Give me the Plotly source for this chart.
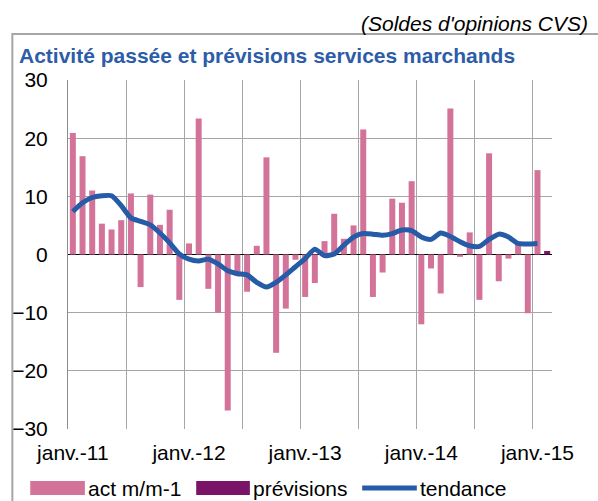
import plotly.graph_objects as go

# ---- data ----
months = [f"{y}-{m:02d}" for y in range(2011, 2016) for m in range(1, 13)][:50]  # Jan 2011 .. Feb 2015
act_values = [20.9, 16.9, 11.0, 5.3, 4.3, 5.9, 10.5, -5.6, 10.3, 5.1, 7.7, -7.8,
              1.9, 23.4, -5.9, -10.0, -26.8, -3.6, -6.4, 1.5, 16.7, -16.9, -9.3, -0.9,
              -7.3, -4.9, 2.3, 7.0, 2.7, 5.0, 21.5, -7.3, -3.1, 9.6, 8.9, 12.6,
              -12.0, -2.4, -6.7, 25.1, -0.4, 3.8, -7.8, 17.4, -4.6, -0.7, 1.7, -10.1,
              14.5, None]
prev_values = [None] * 49 + [0.6]
tendance_values = [7.4, 8.9, 9.8, 10.1, 10.1, 8.4, 6.3, 5.7, 5.1, 3.7, 2.0, 0.1,
                   -0.8, -1.1, -0.8, -1.6, -2.8, -3.3, -3.5, -4.8, -5.6, -4.8, -3.5, -2.1,
                   -0.7, 0.9, -0.2, 0.1, 1.6, 3.0, 3.6, 3.5, 3.3, 3.6, 4.2, 4.1,
                   3.0, 2.6, 3.7, 3.1, 2.2, 1.5, 1.4, 2.6, 3.5, 3.0, 1.9, 1.8,
                   1.9, None]
year_labels = ["janv.-11", "janv.-12", "janv.-13", "janv.-14", "janv.-15"]
y_ticks = [-30, -20, -10, 0, 10, 20, 30]

title_text = "Activité passée et prévisions services marchands"
subtitle_text = "(Soldes d'opinions CVS)"
legend_names = ["act m/m-1", "prévisions", "tendance"]

PINK = "#D4739A"
PURPLE = "#7A1468"
BLUE = "#255BA7"
GRID = "#a6a6a6"
FONT = "Liberation Sans, Arial, sans-serif"
FS = 21

W, H = 598, 501
ML, MR, MT, MB = 65, 46, 80, 72
PW, PH = W - ML - MR, H - MT - MB


def px(xp):
    return (xp - ML) / PW


def py(yp):
    return 1 - (yp - MT) / PH


xpos = list(range(len(months)))
label_vals = [i for i in range(len(months)) if months[i].endswith("-01")]
grid_vals = [i - 0.5 for i in range(0, len(months), 6)]

fig = go.Figure()
fig.add_trace(go.Bar(x=xpos, y=act_values, width=0.62, marker=dict(color=PINK, line=dict(width=0)),
                     name=legend_names[0], showlegend=False))
fig.add_trace(go.Bar(x=xpos, y=prev_values, width=0.62, marker=dict(color=PURPLE, line=dict(width=0)),
                     name=legend_names[1], showlegend=False))
fig.add_trace(go.Scatter(x=xpos, y=tendance_values, mode="lines",
                         line=dict(color=BLUE, width=5, shape="spline", smoothing=0.6),
                         name=legend_names[2], showlegend=False))

fig.update_layout(
    width=W, height=H, autosize=False,
    margin=dict(l=ML, r=MR, t=MT, b=MB, pad=0),
    paper_bgcolor="white", plot_bgcolor="white",
    barmode="overlay",
    font=dict(family=FONT, size=FS, color="black"),
    xaxis=dict(range=[-0.5, len(months) - 0.5], tickmode="array", tickvals=label_vals,
               ticktext=year_labels[:len(label_vals)],
               showgrid=False, showline=False, zeroline=False,
               ticks="outside", ticklen=5, tickcolor="rgba(0,0,0,0)",
               tickfont=dict(size=FS, family=FONT, color="black"),
               minor=dict(tickmode="array", tickvals=grid_vals, showgrid=True,
                          gridcolor=GRID, gridwidth=1, ticks="")),
    yaxis=dict(range=[-30, 30], tickmode="array", tickvals=y_ticks,
               showgrid=True, gridcolor=GRID, gridwidth=1,
               showline=True, linecolor="#8c8c8c", linewidth=1,
               zeroline=True, zerolinecolor="black", zerolinewidth=1,
               ticks="outside", ticklen=15, tickcolor="rgba(0,0,0,0)",
               tickfont=dict(size=FS, family=FONT, color="black")),
)

shapes = []
# outer frame
shapes.append(dict(type="rect", xref="paper", yref="paper", x0=px(9), x1=px(610), y0=py(515), y1=py(34),
                   line=dict(color="#a6a6a6", width=2), fillcolor="rgba(0,0,0,0)", layer="below"))
# manual legend glyphs
shapes.append(dict(type="rect", xref="paper", yref="paper", x0=px(27), x1=px(82), y0=py(495), y1=py(481),
                   line=dict(width=0), fillcolor=PINK))
shapes.append(dict(type="rect", xref="paper", yref="paper", x0=px(194), x1=px(248), y0=py(495), y1=py(481),
                   line=dict(width=0), fillcolor=PURPLE))
shapes.append(dict(type="line", xref="paper", yref="paper", x0=px(361), x1=px(416), y0=py(488), y1=py(488),
                   line=dict(color=BLUE, width=5)))

annotations = [
    dict(text=f"<b>{title_text}</b>", xref="paper", yref="paper", x=px(14), y=py(56),
         xanchor="left", yanchor="middle", showarrow=False,
         font=dict(size=FS, color="#2D5CA8", family=FONT)),
    dict(text=f"<i>{subtitle_text}</i>", xref="paper", yref="paper", x=px(590), y=py(23),
         xanchor="right", yanchor="middle", showarrow=False,
         font=dict(size=FS, color="black", family=FONT)),
    dict(text=legend_names[0], xref="paper", yref="paper", x=px(83), y=py(488),
         xanchor="left", yanchor="middle", showarrow=False, font=dict(size=FS, family=FONT)),
    dict(text=legend_names[1], xref="paper", yref="paper", x=px(249), y=py(488),
         xanchor="left", yanchor="middle", showarrow=False, font=dict(size=FS, family=FONT)),
    dict(text=legend_names[2], xref="paper", yref="paper", x=px(417), y=py(488),
         xanchor="left", yanchor="middle", showarrow=False, font=dict(size=FS, family=FONT)),
]
fig.update_layout(shapes=shapes, annotations=annotations)

fig.write_html("out.html", config={"displayModeBar": False},
               post_script="document.body.style.margin='0';document.body.style.overflow='hidden';")
